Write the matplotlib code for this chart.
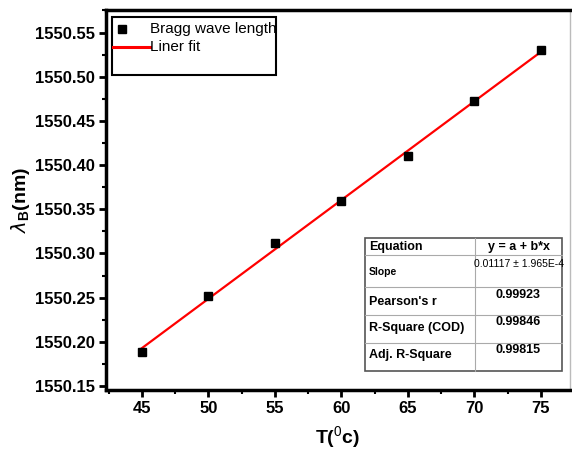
import matplotlib.pyplot as plt
import numpy as np
from matplotlib.patches import Rectangle
from matplotlib.lines import Line2D
from matplotlib.ticker import MultipleLocator

plt.rcParams['font.family'] = ['Liberation Sans', 'DejaVu Sans']
plt.rcParams['mathtext.fontset'] = 'custom'
plt.rcParams['mathtext.rm'] = 'Liberation Sans'
plt.rcParams['mathtext.bf'] = 'Liberation Sans:bold'

temps = [45, 50, 55, 60, 65, 70, 75]
bragg_wl = [1550.188, 1550.252, 1550.312, 1550.359, 1550.410, 1550.472, 1550.530]

table_rows = [
    ("Equation", "y = a + b*x"),
    ("Slope", "0.01117 \u00b1 1.965E-4"),
    ("Pearson's r", "0.99923"),
    ("R-Square (COD)", "0.99846"),
    ("Adj. R-Square", "0.99815"),
]

W, H = 572, 459
fig = plt.figure(figsize=(W / 100, H / 100), dpi=100)
ax = fig.add_axes([106 / W, (H - 390) / H, (570 - 106) / W, (390 - 10) / H])

# linear fit
b, a = np.polyfit(temps, bragg_wl, 1)
xf = np.array([temps[0], temps[-1]])
ax.plot(xf, a + b * xf, color='red', lw=1.6, zorder=2)
ax.plot(temps, bragg_wl, 's', color='black', ms=6, zorder=3)

ax.set_xlim(42.3, 77.2)
ax.set_ylim(1550.1455, 1550.5755)
ax.xaxis.set_major_locator(MultipleLocator(5))
ax.xaxis.set_minor_locator(MultipleLocator(2.5))
ax.yaxis.set_major_locator(MultipleLocator(0.05))
ax.yaxis.set_minor_locator(MultipleLocator(0.025))
ax.yaxis.set_major_formatter(plt.FormatStrFormatter('%.2f'))

ax.tick_params(which='major', direction='out', length=5, width=2, labelsize=12, pad=3)
ax.tick_params(which='minor', direction='out', length=3, width=1.5)
for lab in ax.get_xticklabels() + ax.get_yticklabels():
    lab.set_fontweight('bold')

for side in ['left', 'bottom', 'top']:
    ax.spines[side].set_linewidth(2.5)
ax.spines['right'].set_linewidth(1)
ax.spines['right'].set_color('#bbbbbb')

ax.set_xlabel(r'T($^{0}$c)', fontsize=14, fontweight='bold', labelpad=6)
ax.set_ylabel(r'$\lambda_{\mathbf{B}}$(nm)', fontsize=14, fontweight='bold', labelpad=2)


def px(x, y):
    return x / W, 1 - y / H


# legend box
fig.patches.append(Rectangle(px(112, 75), (276 - 112) / W, (75 - 17) / H,
                             transform=fig.transFigure, facecolor='white',
                             edgecolor='black', lw=1.5, zorder=5))
fig.add_artist(Line2D([122 / W], [1 - 29 / H], marker='s', color='black', ms=6, zorder=6))
fig.add_artist(Line2D([113 / W, 150 / W], [1 - 47 / H] * 2, color='red', lw=2.2, zorder=6))
fig.text(*px(150, 29), 'Bragg wave length', fontsize=11, ha='left', va='center', zorder=7)
fig.text(*px(150, 47), 'Liner fit', fontsize=11, ha='left', va='center', zorder=7)

# fit statistics table
tl, tr, tdiv = 365, 562, 475
row_y = [238, 255, 287, 315, 343, 371]
fig.patches.append(Rectangle(px(tl, row_y[-1]), (tr - tl) / W, (row_y[-1] - row_y[0]) / H,
                             transform=fig.transFigure, facecolor='white',
                             edgecolor='#555555', lw=1.2, zorder=5))
for y in row_y[1:-1]:
    fig.add_artist(Line2D([tl / W, tr / W], [1 - y / H] * 2, color='#aaaaaa', lw=0.8, zorder=6))
fig.add_artist(Line2D([tdiv / W] * 2, [1 - row_y[0] / H, 1 - row_y[-1] / H],
                      color='#aaaaaa', lw=0.8, zorder=6))

label_y = [247, 272, 302, 328, 355]
value_y = [247, 264, 295, 322, 350]
label_fs = [9, 7.5, 9, 9, 9]
value_fs = [9, 7.5, 9, 9, 9]
for i, (lab, val) in enumerate(table_rows):
    fig.text(*px(tl + 4, label_y[i]), lab, fontsize=label_fs[i], fontweight='bold',
             ha='left', va='center', zorder=7)
    fig.text(*px((tdiv + tr) / 2, value_y[i]), val, fontsize=value_fs[i],
             fontweight='bold' if i != 1 else 'normal',
             ha='center', va='center', zorder=7)

fig.savefig('out.png', dpi=100)
